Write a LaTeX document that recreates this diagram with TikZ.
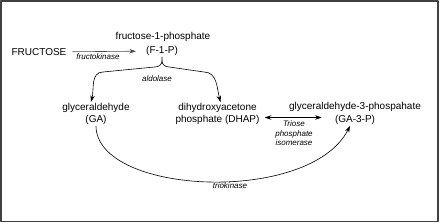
\documentclass[tikz,border=0pt]{standalone}
\usepackage{fontspec}
\setmainfont{Liberation Sans}
\usetikzlibrary{arrows.meta,positioning}

\begin{document}
\begin{tikzpicture}[x=1pt,y=-1pt,>={Stealth[length=6.5pt,width=4.5pt]}, line join=round, line cap=round, line width=0.6pt,
	metab/.style={align=center, inner sep=1pt, font=\fontsize{10}{12.5}\selectfont},
	enz/.style={align=center, inner sep=1pt, font=\fontsize{8}{9.5}\selectfont\itshape}]
	\useasboundingbox (0,0) rectangle (440,223);
	\draw[black!75, line width=1.5pt] (0.75,0.75) rectangle (438.2,221.7); % cadre
	% composes
	\node[metab] (fru) at (39,52) {FRUCTOSE};
	\node[metab] (f1p) at (163,37) {fructose-1-phosphate};
	\node[metab] (f1pab) at (162,51) {(F-1-P)};
	\node[metab] (ga) at (96,114) {glyceraldehyde\\(GA)};
	\node[metab] (dhap) at (217.5,108) {dihydroxyacetone};
	\node[metab] (dhapab) at (217.5,120) {phosphate (DHAP)};
	\node[metab] (ga3p) at (355,107) {glyceraldehyde-3-phospahate};
	\node[metab] (ga3pab) at (355,120) {(GA-3-P)};
	% enzymes
	\node[enz] (fk) at (98,57) {fructokinase};
	\node[enz] (ald) at (157,79) {aldolase};
	\node[enz] (tpi) at (294,133.5) {Triose\\phosphate\\isomerase};
	\node[enz] (tk) at (230,186) {triokinase};
	% reactions
	\draw[->, black!70, shorten <=5pt, shorten >=9pt] (fru) -- (f1pab);
	\draw[->] (f1pab.south) -- ++(0,4) to[out=-90,in=0] ++(-7,6) -- (103,72) to[out=180,in=75] ([xshift=-5pt]ga.north);
	\draw[->] (f1pab.south) ++(0,4) to[out=-90,in=180] ++(7,6) -- (204,72) to[out=0,in=105] ([xshift=3pt]dhap.north);
	\draw[<->, shorten <=4pt, shorten >=12pt] ([yshift=2.5pt]dhapab.east) -- ([yshift=2.5pt]ga3pab.west);
	\draw[->] (ga.south) .. controls (97,195) and (310,205) .. ([xshift=-5pt]ga3pab.south);
\end{tikzpicture}
\end{document}
